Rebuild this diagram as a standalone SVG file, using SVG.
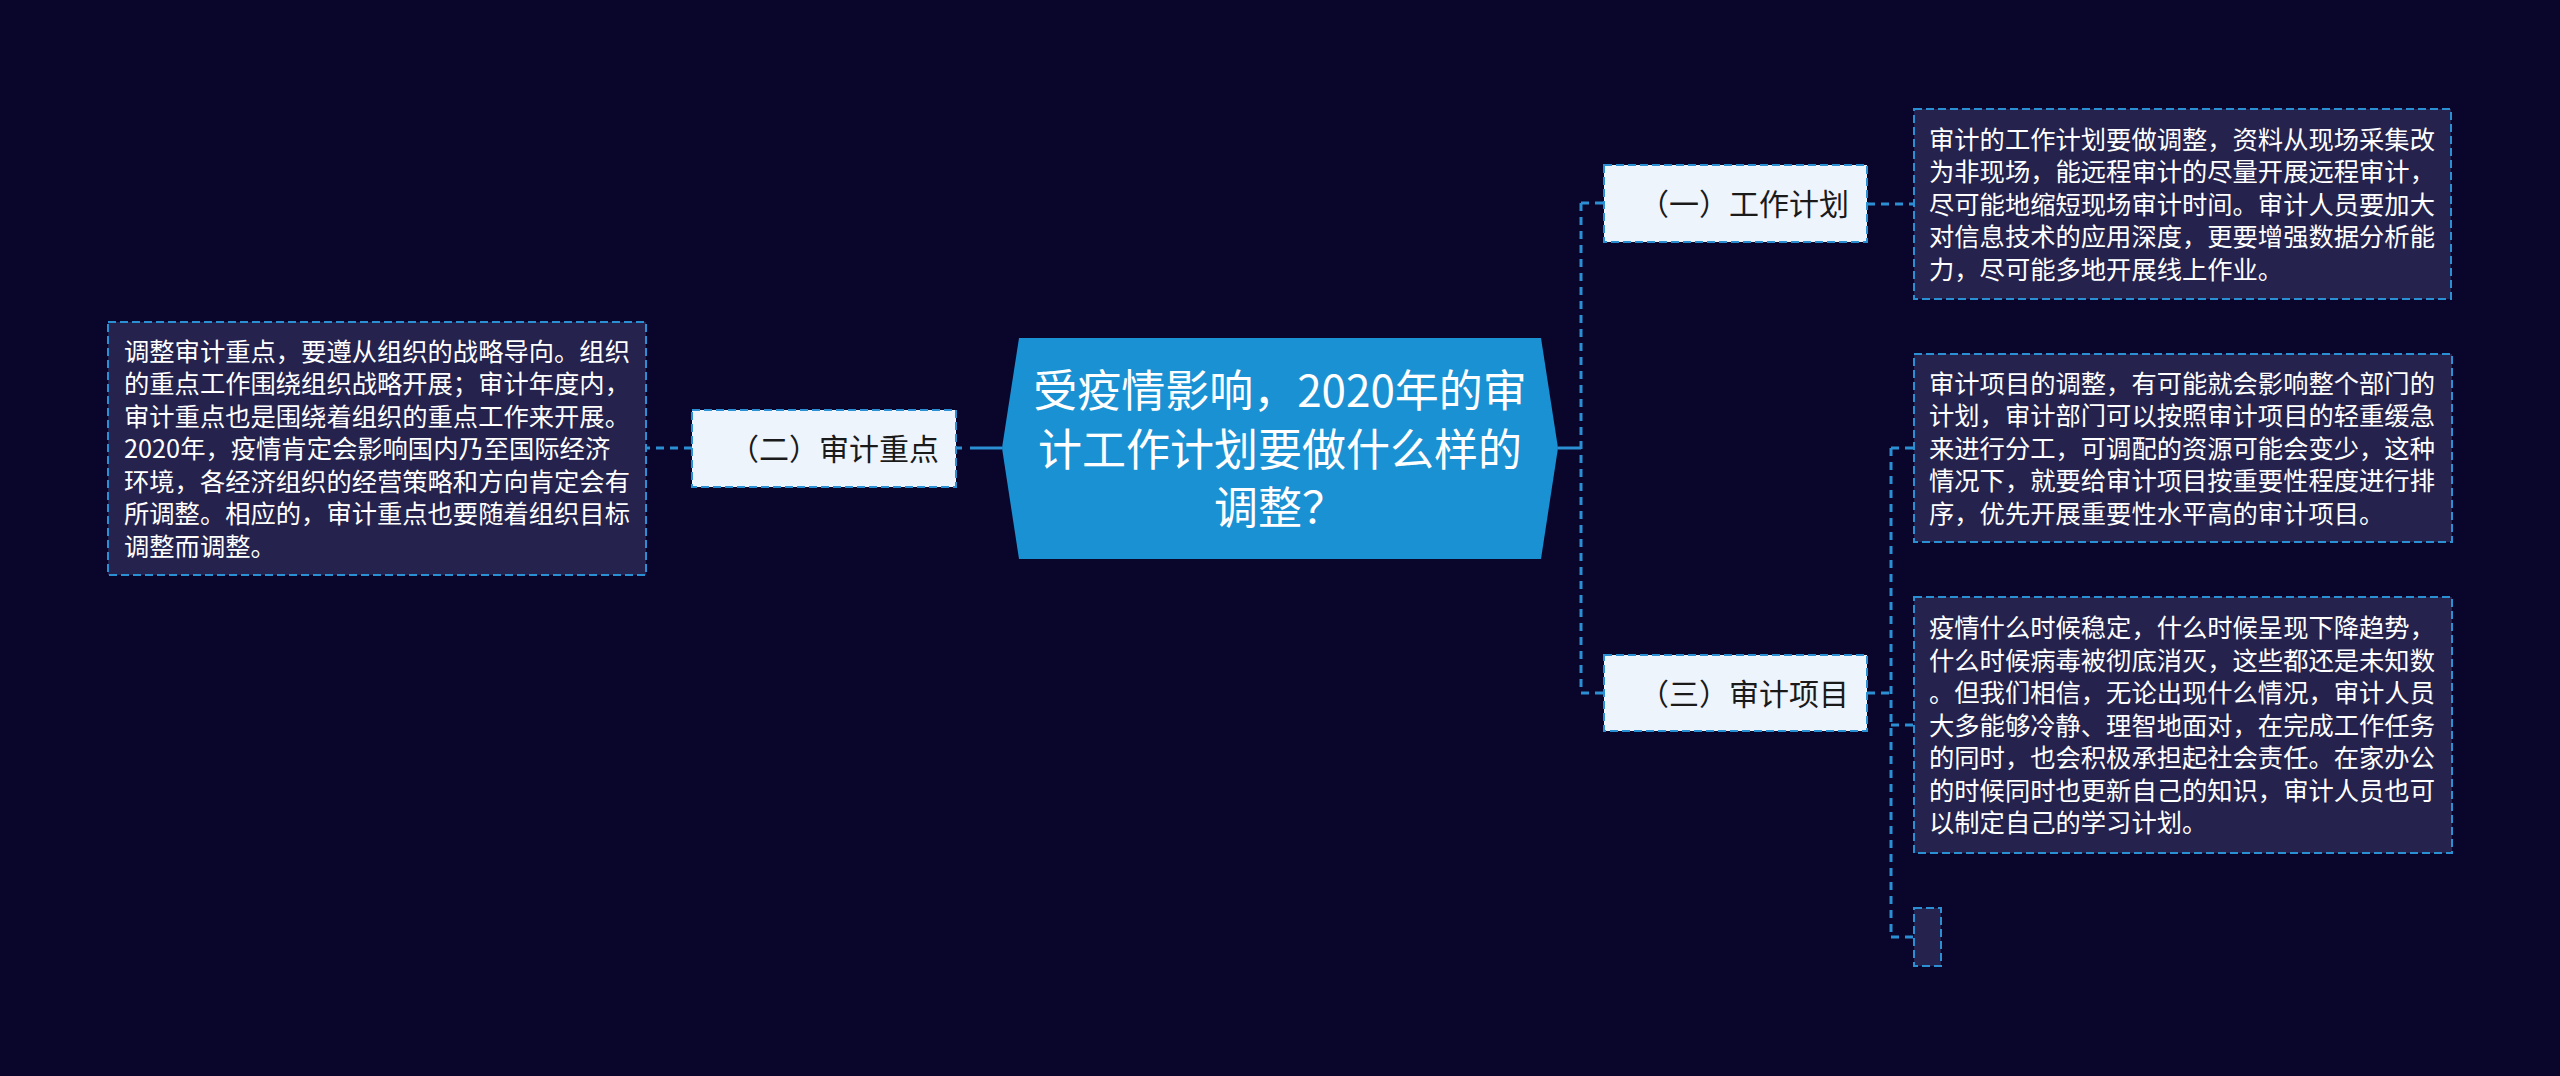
<svg xmlns="http://www.w3.org/2000/svg" width="2560" height="1076" viewBox="0 0 2560 1076">
<style>
.bg{fill:#0a052b}
.conn{fill:none;stroke:#2b8fd4;stroke-width:3;stroke-dasharray:8 6}
.solid{fill:none;stroke:#2b8fd4;stroke-width:3}
.branch{fill:#eef4fc;stroke:#2b8fd4;stroke-width:2;stroke-dasharray:8 4}
.leaf{fill:#25234e;stroke:#2b8fd4;stroke-width:2;stroke-dasharray:8 4}
.center{fill:#1a91d3}
.ct{font-family:"Noto Sans CJK SC","Noto Sans",sans-serif;font-size:44px;fill:#ffffff;text-anchor:middle}
.bt{font-family:"Noto Sans CJK SC","Noto Sans",sans-serif;font-size:30px;fill:#1a1a1a;text-anchor:middle}
.lt{font-family:"Noto Sans CJK SC","Noto Sans",sans-serif;font-size:25.3px;fill:#ffffff}
</style>
<rect class="bg" x="0" y="0" width="2560" height="1076"/>
<g id="connectors">
<path class="solid" d="M1002,448 L970,448"/>
<path class="conn" d="M962,448 L956,448"/>
<path class="conn" d="M692,448 L646,448"/>
<path class="solid" d="M1558,448 L1581,448"/>
<path class="conn" d="M1581,203 L1581,693"/>
<path class="conn" d="M1581,203 L1604,203"/>
<path class="conn" d="M1581,693 L1604,693"/>
<path class="conn" d="M1867,204 L1914,204"/>
<path class="conn" d="M1867,693 L1891,693"/>
<path class="conn" d="M1891,448 L1891,937"/>
<path class="conn" d="M1891,448 L1914,448"/>
<path class="conn" d="M1891,725 L1914,725"/>
<path class="conn" d="M1891,937 L1914,937"/>
</g>
<g id="center">
<polygon class="center" points="1019,338 1541,338 1558,448 1541,559 1019,559 1002,448"/>
<text class="ct" x="1280" y="407">受疫情影响，2020年的审</text>
<text class="ct" x="1280" y="466">计工作计划要做什么样的</text>
<text class="ct" x="1280" y="524">调整？</text>
</g>
<g id="branch2">
<rect class="branch" x="692" y="410" width="264" height="77"/>
<text class="bt" x="834" y="460">（二）审计重点</text>
</g>
<g id="leaf2">
<rect class="leaf" x="108" y="322" width="538" height="253"/>
<text class="lt" x="124" y="360.5">调整审计重点，要遵从组织的战略导向。组织</text>
<text class="lt" x="124" y="393">的重点工作围绕组织战略开展；审计年度内，</text>
<text class="lt" x="124" y="425.5">审计重点也是围绕着组织的重点工作来开展。</text>
<text class="lt" x="124" y="458">2020年，疫情肯定会影响国内乃至国际经济</text>
<text class="lt" x="124" y="490.5">环境，各经济组织的经营策略和方向肯定会有</text>
<text class="lt" x="124" y="523">所调整。相应的，审计重点也要随着组织目标</text>
<text class="lt" x="124" y="555.5">调整而调整。</text>
</g>
<g id="branch1">
<rect class="branch" x="1604" y="165" width="263" height="77"/>
<text class="bt" x="1744" y="215">（一）工作计划</text>
</g>
<g id="leaf1">
<rect class="leaf" x="1914" y="109" width="537" height="190"/>
<text class="lt" x="1929" y="148.5">审计的工作计划要做调整，资料从现场采集改</text>
<text class="lt" x="1929" y="181">为非现场，能远程审计的尽量开展远程审计，</text>
<text class="lt" x="1929" y="213.5">尽可能地缩短现场审计时间。审计人员要加大</text>
<text class="lt" x="1929" y="246">对信息技术的应用深度，更要增强数据分析能</text>
<text class="lt" x="1929" y="278.5">力，尽可能多地开展线上作业。</text>
</g>
<g id="branch3">
<rect class="branch" x="1604" y="655" width="263" height="76"/>
<text class="bt" x="1744" y="704.5">（三）审计项目</text>
</g>
<g id="leaf3a">
<rect class="leaf" x="1914" y="354" width="538" height="188"/>
<text class="lt" x="1929" y="392.5">审计项目的调整，有可能就会影响整个部门的</text>
<text class="lt" x="1929" y="425">计划，审计部门可以按照审计项目的轻重缓急</text>
<text class="lt" x="1929" y="457.5">来进行分工，可调配的资源可能会变少，这种</text>
<text class="lt" x="1929" y="490">情况下，就要给审计项目按重要性程度进行排</text>
<text class="lt" x="1929" y="522.5">序，优先开展重要性水平高的审计项目。</text>
</g>
<g id="leaf3b">
<rect class="leaf" x="1914" y="597" width="538" height="256"/>
<text class="lt" x="1929" y="637">疫情什么时候稳定，什么时候呈现下降趋势，</text>
<text class="lt" x="1929" y="669.5">什么时候病毒被彻底消灭，这些都还是未知数</text>
<text class="lt" x="1929" y="702">。但我们相信，无论出现什么情况，审计人员</text>
<text class="lt" x="1929" y="734.5">大多能够冷静、理智地面对，在完成工作任务</text>
<text class="lt" x="1929" y="767">的同时，也会积极承担起社会责任。在家办公</text>
<text class="lt" x="1929" y="799.5">的时候同时也更新自己的知识，审计人员也可</text>
<text class="lt" x="1929" y="832">以制定自己的学习计划。</text>
</g>
<g id="leaf3c">
<rect class="leaf" x="1914" y="908" width="27" height="58"/>
</g>
</svg>
